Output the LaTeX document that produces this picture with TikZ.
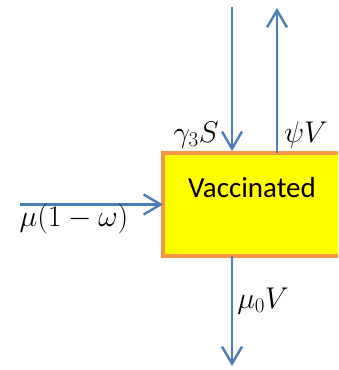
\RequirePackage{fix-cm}
\documentclass[tikz,border=0pt]{standalone}
\usepackage{fontspec}
\usepackage{tikz}
\usetikzlibrary{arrows.meta,positioning}
\newfontfamily\calibri{Carlito}
\definecolor{flowblue}{HTML}{4A7EBB}
\definecolor{boxorange}{HTML}{F79646}
\definecolor{boxyellow}{HTML}{FFFF00}

\begin{document}
\begin{tikzpicture}[x=1pt,y=1pt,
  flow/.style={draw=flowblue,line width=2.4pt,-{Straight Barb[length=17pt,width=20pt]}},
  rate/.style={inner sep=0pt,font=\fontsize{30}{34}\selectfont}]
  \useasboundingbox (0,0) rectangle (338,370);
  \clip (0,0) rectangle (338,370);
  \node (vacc) [draw=boxorange,fill=boxyellow,line width=4pt,outer sep=0pt,
    minimum width=220pt,minimum height=103pt] at (273,165.5) {};
  \node (vaccname) [below=24pt of vacc.north,xshift=-21pt,inner sep=0pt,
    font=\calibri\fontsize{29}{33}\selectfont] {Vaccinated};
  % free ends
  \coordinate (intop) at (232,363);
  \coordinate (outtop) at (277,362);
  \coordinate (inleft) at (20,165.5);
  \coordinate (outbot) at (232,4);
  \draw[flow,shorten >=2pt] (intop) -- (intop |- vacc.north);
  \draw[flow] (outtop |- vacc.north) -- (outtop);
  \draw[flow] (inleft) -- (vacc.west);
  \draw[flow] (outbot |- vacc.south) -- (outbot);
  % rates
  \node (gammarate) [rate] at (196,235) {$\gamma_3 S$};
  \node (psirate) [rate] at (306,235) {$\psi V$};
  \node (murate) [rate] at (74,151) {$\mu(1-\omega)$};
  \node (deathrate) [rate] at (263,69) {$\mu_0 V$};
\end{tikzpicture}
\end{document}
